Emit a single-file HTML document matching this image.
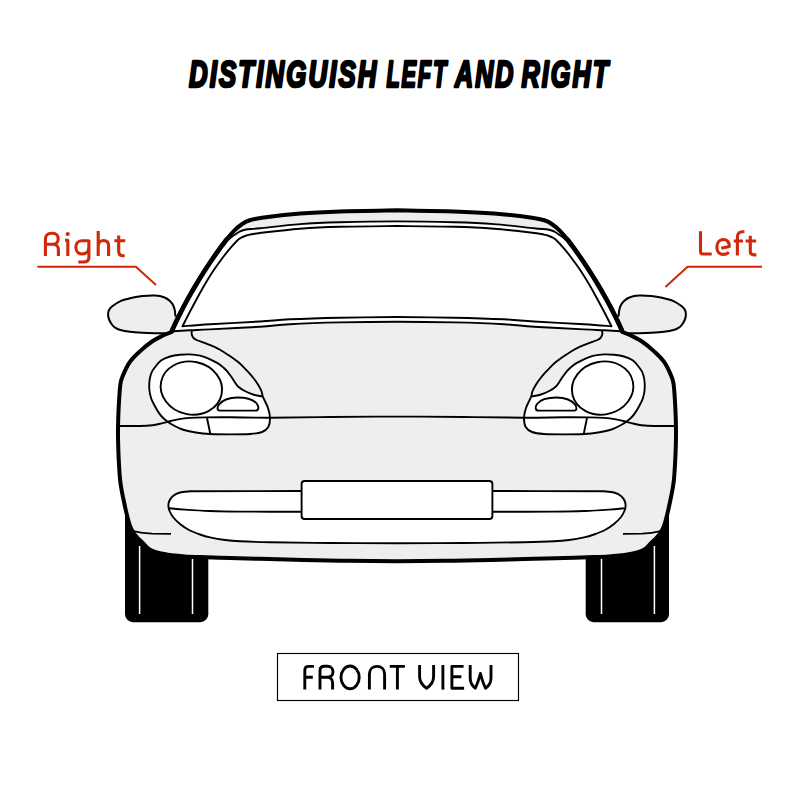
<!DOCTYPE html>
<html><head><meta charset="utf-8"><style>
html,body{margin:0;padding:0;background:#fff;width:800px;height:800px;overflow:hidden}
svg{display:block}
</style></head><body>
<svg width="800" height="800" viewBox="0 0 800 800">
<rect width="800" height="800" fill="#fff"/>
<g font-family="'Liberation Sans', sans-serif" font-weight="bold" font-style="italic" font-size="36.2" fill="#000" stroke="#000" stroke-width="2.7" stroke-linejoin="round" letter-spacing="3">
<text x="189" y="86.6" textLength="189.5" lengthAdjust="spacingAndGlyphs">DISTINGUISH</text>
<text x="386.5" y="86.6" textLength="61.5" lengthAdjust="spacingAndGlyphs">LEFT</text>
<text x="455" y="86.6" textLength="60.5" lengthAdjust="spacingAndGlyphs">AND</text>
<text x="521.5" y="86.6" textLength="88.8" lengthAdjust="spacingAndGlyphs">RIGHT</text>
</g>
<g id="L">
 <rect x="125" y="500" width="83.3" height="122.2" rx="8" fill="#000"/>
 <line x1="139.6" y1="546" x2="139.6" y2="614" stroke="#fff" stroke-width="1.5"/>
 <line x1="192.5" y1="558.5" x2="192.5" y2="614" stroke="#fff" stroke-width="1.5"/>
 <path d="M178,315.7 C177.57,315.68 175.9,316.3 175.4,315.6 C174.9,314.9 175.32,313.1 175,311.5 C174.68,309.9 174.33,307.75 173.5,306 C172.67,304.25 171.58,302.47 170,301 C168.42,299.53 166.5,298.1 164,297.2 C161.5,296.3 158.58,295.78 155,295.6 C151.42,295.42 146.33,295.73 142.5,296.1 C138.67,296.47 135.67,296.97 132,297.8 C128.33,298.63 123.79,299.68 120.5,301.1 C117.21,302.52 114.2,304.73 112.25,306.3 C110.3,307.87 109.49,309.03 108.8,310.5 C108.11,311.97 108.02,313.52 108.1,315.1 C108.18,316.68 108.61,318.35 109.3,320 C109.99,321.65 111.22,323.7 112.25,325 C113.28,326.3 114.12,326.97 115.5,327.8 C116.88,328.63 118.08,329.35 120.5,330 C122.92,330.65 126.33,331.25 130,331.7 C133.67,332.15 138.33,332.45 142.5,332.7 C146.67,332.95 151.25,333.1 155,333.2 C158.75,333.3 162.17,333.37 165,333.3 C167.83,333.23 170.83,332.88 172,332.8 Z" fill="#eeeeee" stroke="#000" stroke-width="2"/>
</g>
<use href="#L" transform="matrix(-1 0 0 1 794 0)"/>
<path d="M397,210.3 C387.5,210.48 356.17,210.87 340,211.4 C323.83,211.93 313,212.45 300,213.5 C287,214.55 270.5,216.53 262,217.7 C253.5,218.87 252.42,219.37 249,220.5 C245.58,221.63 244,222.78 241.5,224.5 C239,226.22 236.58,228.2 234,230.8 C231.42,233.4 229.18,236.07 226,240.1 C222.82,244.13 218.47,250.02 214.95,255 C211.43,259.98 208.11,265 204.88,270 C201.65,275 198.54,280 195.55,285 C192.56,290 189.7,295 186.96,300 C184.22,305 181.41,310.42 179.11,315 C176.81,319.58 174.41,324.67 173.14,327.5 C171.87,330.33 171.77,331.25 171.5,332 C170.08,332.58 166.25,333.92 163,335.5 C159.75,337.08 155.9,338.82 152,341.5 C148.1,344.18 143.37,348.08 139.6,351.6 C135.83,355.12 132.28,358.37 129.4,362.6 C126.52,366.83 123.82,373.27 122.3,377 C120.78,380.73 120.83,381.17 120.3,385 C119.77,388.83 119.44,394.5 119.1,400 C118.76,405.5 118.43,412.17 118.25,418 C118.07,423.83 117.97,429.33 118,435 C118.03,440.67 118.22,446.83 118.4,452 C118.58,457.17 118.82,461.33 119.1,466 C119.38,470.67 119.68,476 120.1,480 C120.52,484 121.02,486.67 121.6,490 C122.18,493.33 122.83,496.33 123.6,500 C124.37,503.67 125.27,508.08 126.2,512 C127.13,515.92 128.27,520.5 129.2,523.5 C130.13,526.5 130.9,528.17 131.8,530 C132.7,531.83 133.53,533.07 134.6,534.5 C135.67,535.93 136.88,537.25 138.2,538.6 C139.52,539.95 140.87,540.98 142.5,542.6 C144.13,544.22 145.92,546.77 148,548.3 C150.08,549.83 152.5,550.88 155,551.8 C157.5,552.72 160.17,553.22 163,553.8 C165.83,554.38 168.33,554.87 172,555.3 C175.67,555.73 180.33,556.1 185,556.4 C189.67,556.7 192.5,556.82 200,557.1 C207.5,557.38 220,557.82 230,558.1 C240,558.38 241.67,558.37 260,558.8 C278.33,559.23 317.17,560.28 340,560.7 C362.83,561.12 387.5,561.2 397,561.3 C406.5,561.2 431.17,561.12 454,560.7 C476.83,560.28 515.67,559.23 534,558.8 C552.33,558.37 554,558.38 564,558.1 C574,557.82 586.5,557.38 594,557.1 C601.5,556.82 604.33,556.7 609,556.4 C613.67,556.1 618.33,555.73 622,555.3 C625.67,554.87 628.17,554.38 631,553.8 C633.83,553.22 636.5,552.72 639,551.8 C641.5,550.88 643.92,549.83 646,548.3 C648.08,546.77 649.87,544.22 651.5,542.6 C653.13,540.98 654.48,539.95 655.8,538.6 C657.12,537.25 658.33,535.93 659.4,534.5 C660.47,533.07 661.3,531.83 662.2,530 C663.1,528.17 663.87,526.5 664.8,523.5 C665.73,520.5 666.87,515.92 667.8,512 C668.73,508.08 669.63,503.67 670.4,500 C671.17,496.33 671.82,493.33 672.4,490 C672.98,486.67 673.48,484 673.9,480 C674.32,476 674.62,470.67 674.9,466 C675.18,461.33 675.42,457.17 675.6,452 C675.78,446.83 675.98,440.67 676,435 C676.02,429.33 675.93,423.83 675.75,418 C675.57,412.17 675.24,405.5 674.9,400 C674.56,394.5 674.23,388.83 673.7,385 C673.17,381.17 673.22,380.73 671.7,377 C670.18,373.27 667.48,366.83 664.6,362.6 C661.72,358.37 658.17,355.12 654.4,351.6 C650.63,348.08 645.9,344.18 642,341.5 C638.1,338.82 634.25,337.08 631,335.5 C627.75,333.92 623.92,332.58 622.5,332 C622.23,331.25 622.13,330.33 620.86,327.5 C619.59,324.67 617.19,319.58 614.89,315 C612.59,310.42 609.78,305 607.04,300 C604.3,295 601.44,290 598.45,285 C595.46,280 592.35,275 589.12,270 C585.89,265 582.57,259.98 579.05,255 C575.53,250.02 571.17,244.13 568,240.1 C564.83,236.07 562.58,233.4 560,230.8 C557.42,228.2 555,226.22 552.5,224.5 C550,222.78 548.42,221.63 545,220.5 C541.58,219.37 540.5,218.87 532,217.7 C523.5,216.53 507,214.55 494,213.5 C481,212.45 470.17,211.93 454,211.4 C437.83,210.87 406.5,210.48 397,210.3 Z" fill="#eeeeee" stroke="none"/>
<path d="M397,221.4 C387.5,221.54 356.17,221.8 340,222.25 C323.83,222.7 313.33,223.1 300,224.1 C286.67,225.1 269.17,227.31 260,228.25 C250.83,229.19 248.5,229.12 245,229.75 C241.5,230.38 240.92,231.03 239,232 C237.08,232.97 235.08,234.47 233.5,235.6 C231.92,236.73 230.72,237.7 229.5,238.8 C228.28,239.9 227.22,241 226.2,242.2 C225.18,243.4 223.87,245.37 223.4,246 C221.99,247.5 218.04,251 214.95,255 C211.86,259 208.11,265 204.88,270 C201.65,275 198.54,280 195.55,285 C192.56,290 189.7,295 186.96,300 C184.22,305 181.19,310.58 179.11,315 C177.03,319.42 175.44,323.78 174.5,326.5 C173.56,329.22 173.67,330.5 173.5,331.3 C176.25,331.13 183.92,330.62 190,330.3 C196.08,329.98 198.33,330 210,329.4 C221.67,328.8 246.67,327.57 260,326.7 C273.33,325.83 276.67,324.92 290,324.2 C303.33,323.48 322.17,322.82 340,322.4 C357.83,321.98 387.5,321.82 397,321.7 C406.5,321.82 436.17,321.98 454,322.4 C471.83,322.82 490.67,323.48 504,324.2 C517.33,324.92 520.67,325.83 534,326.7 C547.33,327.57 572.33,328.8 584,329.4 C595.67,330 597.92,329.98 604,330.3 C610.08,330.62 617.75,331.13 620.5,331.3 C620.33,330.5 620.43,329.22 619.5,326.5 C618.57,323.78 616.97,319.42 614.89,315 C612.81,310.58 609.78,305 607.04,300 C604.3,295 601.44,290 598.45,285 C595.46,280 592.35,275 589.12,270 C585.89,265 582.14,259 579.05,255 C575.96,251 572.01,247.5 570.6,246 C570.13,245.37 568.82,243.4 567.8,242.2 C566.78,241 565.72,239.9 564.5,238.8 C563.28,237.7 562.08,236.73 560.5,235.6 C558.92,234.47 556.92,232.97 555,232 C553.08,231.03 552.5,230.38 549,229.75 C545.5,229.12 543.17,229.19 534,228.25 C524.83,227.31 507.33,225.1 494,224.1 C480.67,223.1 470.17,222.7 454,222.25 C437.83,221.8 406.5,221.54 397,221.4 Z" fill="#fff" stroke="none"/>
<path d="M570.6,246 C570.13,245.37 568.82,243.4 567.8,242.2 C566.78,241 565.72,239.9 564.5,238.8 C563.28,237.7 562.08,236.73 560.5,235.6 C558.92,234.47 556.92,232.97 555,232 C553.08,231.03 552.5,230.38 549,229.75 C545.5,229.12 543.17,229.19 534,228.25 C524.83,227.31 507.33,225.1 494,224.1 C480.67,223.1 470.17,222.7 454,222.25 C437.83,221.8 416,221.4 397,221.4 C378,221.4 356.17,221.8 340,222.25 C323.83,222.7 313.33,223.1 300,224.1 C286.67,225.1 269.17,227.31 260,228.25 C250.83,229.19 248.5,229.12 245,229.75 C241.5,230.38 240.92,231.03 239,232 C237.08,232.97 235.08,234.47 233.5,235.6 C231.92,236.73 230.72,237.7 229.5,238.8 C228.28,239.9 227.22,241 226.2,242.2 C225.18,243.4 223.87,245.37 223.4,246" fill="none" stroke="#000" stroke-width="1.9" stroke-linecap="round"/>
<path d="M620.5,331.3 C617.75,331.13 610.08,330.62 604,330.3 C597.92,329.98 595.67,330 584,329.4 C572.33,328.8 547.33,327.57 534,326.7 C520.67,325.83 517.33,324.92 504,324.2 C490.67,323.48 471.83,322.82 454,322.4 C436.17,321.98 416,321.7 397,321.7 C378,321.7 357.83,321.98 340,322.4 C322.17,322.82 303.33,323.48 290,324.2 C276.67,324.92 273.33,325.83 260,326.7 C246.67,327.57 221.67,328.8 210,329.4 C198.33,330 196.08,329.98 190,330.3 C183.92,330.62 176.25,331.13 173.5,331.3" fill="none" stroke="#000" stroke-width="1.9"/>
<path d="M397,226 C387.5,226.12 356.17,226.29 340,226.75 C323.83,227.21 313.33,227.71 300,228.75 C286.67,229.79 268.33,232.03 260,233 C251.67,233.97 252.5,234.1 250,234.6 C247.5,235.1 246.58,235.43 245,236 C243.42,236.57 241.69,237.33 240.5,238 C239.31,238.67 239.43,238.45 237.85,240 C236.27,241.55 233.19,244.8 231,247.3 C228.81,249.8 227.59,251.22 224.73,255 C221.87,258.78 217.2,265 213.83,270 C210.46,275 207.45,280 204.51,285 C201.57,290 198.89,295 196.17,300 C193.45,305 190.49,310.62 188.21,315 C185.93,319.38 183.45,324.42 182.5,326.3 C187.08,325.95 197.08,325 210,324.2 C222.92,323.4 246.67,322.32 260,321.5 C273.33,320.68 276.67,319.93 290,319.3 C303.33,318.67 322.17,318.08 340,317.7 C357.83,317.32 387.5,317.12 397,317 C406.5,317.12 436.17,317.32 454,317.7 C471.83,318.08 490.67,318.67 504,319.3 C517.33,319.93 520.67,320.68 534,321.5 C547.33,322.32 571.08,323.4 584,324.2 C596.92,325 606.92,325.95 611.5,326.3 C610.55,324.42 608.07,319.38 605.79,315 C603.51,310.62 600.55,305 597.83,300 C595.11,295 592.43,290 589.49,285 C586.55,280 583.54,275 580.17,270 C576.8,265 572.13,258.78 569.27,255 C566.41,251.22 565.19,249.8 563,247.3 C560.81,244.8 557.73,241.55 556.15,240 C554.57,238.45 554.69,238.67 553.5,238 C552.31,237.33 550.58,236.57 549,236 C547.42,235.43 546.5,235.1 544,234.6 C541.5,234.1 542.33,233.97 534,233 C525.67,232.03 507.33,229.79 494,228.75 C480.67,227.71 470.17,227.21 454,226.75 C437.83,226.29 406.5,226.12 397,226 Z" fill="none" stroke="#000" stroke-width="1.9" stroke-linejoin="round"/>
<path d="M397,491 C380.83,491 334.5,490.95 300,491 C265.5,491.05 208.33,491.25 190,491.3 C188.33,491.5 182.83,491.72 180,492.5 C177.17,493.28 174.78,494.58 173,496 C171.22,497.42 170.07,499.33 169.3,501 C168.53,502.67 168.35,504.33 168.4,506 C168.45,507.67 168.83,509.17 169.6,511 C170.37,512.83 171.27,514.83 173,517 C174.73,519.17 177.33,521.83 180,524 C182.67,526.17 185.67,528.25 189,530 C192.33,531.75 196.5,533.27 200,534.5 C203.5,535.73 205.83,536.48 210,537.4 C214.17,538.32 220,539.35 225,540 C230,540.65 232.5,540.93 240,541.3 C247.5,541.67 255,541.92 270,542.2 C285,542.48 308.83,542.82 330,543 C351.17,543.18 385.83,543.25 397,543.3 C408.17,543.25 442.83,543.18 464,543 C485.17,542.82 509,542.48 524,542.2 C539,541.92 546.5,541.67 554,541.3 C561.5,540.93 564,540.65 569,540 C574,539.35 579.83,538.32 584,537.4 C588.17,536.48 590.5,535.73 594,534.5 C597.5,533.27 601.67,531.75 605,530 C608.33,528.25 611.33,526.17 614,524 C616.67,521.83 619.27,519.17 621,517 C622.73,514.83 623.63,512.83 624.4,511 C625.17,509.17 625.55,507.67 625.6,506 C625.65,504.33 625.47,502.67 624.7,501 C623.93,499.33 622.78,497.42 621,496 C619.22,494.58 616.83,493.28 614,492.5 C611.17,491.72 605.67,491.5 604,491.3 C585.67,491.25 528.5,491.05 494,491 C459.5,490.95 413.17,491 397,491 Z" fill="#fff" stroke="#000" stroke-width="1.9"/>
<g id="R">
 <path d="M263,397 C263.83,398.83 266.83,404.5 268,408 C269.17,411.5 269.95,414.83 270,418 C270.05,421.17 269.63,424.67 268.3,427 C266.97,429.33 265.05,430.83 262,432 C258.95,433.17 255.33,433.6 250,434 C244.67,434.4 236.67,434.4 230,434.4 C223.33,434.4 215.67,434.32 210,434 C204.33,433.68 200.58,433.25 196,432.5 C191.42,431.75 186.5,430.83 182.5,429.5 C178.5,428.17 174.5,425.83 172,424.5 C169.5,423.17 168.97,422.58 167.5,421.5 C166.03,420.42 164.55,419.32 163.2,418 C161.85,416.68 160.78,415.55 159.4,413.6 C158.02,411.65 156.27,408.82 154.9,406.3 C153.53,403.78 152.12,401.22 151.2,398.5 C150.28,395.78 149.67,393.08 149.4,390 C149.13,386.92 149.23,382.92 149.6,380 C149.97,377.08 150.7,374.63 151.6,372.5 C152.5,370.37 153.43,369.2 155,367.2 C156.57,365.2 158.5,362.28 161,360.5 C163.5,358.72 166.83,357.45 170,356.5 C173.17,355.55 176.67,355.15 180,354.8 C183.33,354.45 186.67,354.27 190,354.4 C193.33,354.53 197,354.95 200,355.6 C203,356.25 205.5,357.27 208,358.3 C210.5,359.33 213,360.73 215,361.8 C217,362.88 218.17,363.38 220,364.75 C221.83,366.12 224.33,368.29 226,370 C227.67,371.71 228.92,373.58 230,375 C231.08,376.42 231.67,377.25 232.5,378.5 C233.33,379.75 234.08,381.17 235,382.5 C235.92,383.83 236.38,385.08 238,386.5 C239.62,387.92 242.12,389.62 244.75,391 C247.38,392.38 250.71,393.83 253.75,394.75 C256.79,395.67 261.46,396.21 263,396.5 Z" fill="#fff" stroke="none"/>
 <path d="M192,330.5 C191.93,331.04 191.42,332.58 191.6,333.75 C191.78,334.92 192.28,336.46 193.1,337.5 C193.92,338.54 194.18,338.95 196.5,340 C198.82,341.05 203.92,342.6 207,343.8 C210.08,345 212.83,346.21 215,347.2 C217.17,348.19 217.79,348.45 220,349.75 C222.21,351.05 225.12,352.88 228.25,355 C231.38,357.12 235.75,360 238.75,362.5 C241.75,365 243.88,367.5 246.25,370 C248.62,372.5 251,375 253,377.5 C255,380 256.82,382.67 258.25,385 C259.68,387.33 260.81,389.5 261.6,391.5 C262.39,393.5 261.93,394.25 263,397 C264.07,399.75 266.83,404.5 268,408 C269.17,411.5 269.95,414.83 270,418 C270.05,421.17 269.63,424.67 268.3,427 C266.97,429.33 265.05,430.83 262,432 C258.95,433.17 255.33,433.6 250,434 C244.67,434.4 236.67,434.4 230,434.4 C223.33,434.4 215.67,434.32 210,434 C204.33,433.68 200.58,433.25 196,432.5 C191.42,431.75 186.5,430.83 182.5,429.5 C178.5,428.17 174.5,425.83 172,424.5 C169.5,423.17 168.25,422 167.5,421.5" fill="none" stroke="#000" stroke-width="1.9"/>
 <path d="M167.5,421.5 C166.78,420.92 164.55,419.32 163.2,418 C161.85,416.68 160.78,415.55 159.4,413.6 C158.02,411.65 156.27,408.82 154.9,406.3 C153.53,403.78 152.12,401.22 151.2,398.5 C150.28,395.78 149.67,393.08 149.4,390 C149.13,386.92 149.23,382.92 149.6,380 C149.97,377.08 150.7,374.63 151.6,372.5 C152.5,370.37 153.43,369.2 155,367.2 C156.57,365.2 158.5,362.28 161,360.5 C163.5,358.72 166.83,357.45 170,356.5 C173.17,355.55 176.67,355.15 180,354.8 C183.33,354.45 186.67,354.27 190,354.4 C193.33,354.53 197,354.95 200,355.6 C203,356.25 205.5,357.27 208,358.3 C210.5,359.33 213,360.73 215,361.8 C217,362.88 218.17,363.38 220,364.75 C221.83,366.12 224.33,368.29 226,370 C227.67,371.71 228.92,373.58 230,375 C231.08,376.42 231.67,377.25 232.5,378.5 C233.33,379.75 234.08,381.17 235,382.5 C235.92,383.83 236.38,385.08 238,386.5 C239.62,387.92 242.12,389.62 244.75,391 C247.38,392.38 250.71,393.83 253.75,394.75 C256.79,395.67 261.46,396.21 263,396.5" fill="none" stroke="#000" stroke-width="1.9"/>
 <ellipse cx="191.37" cy="388.08" rx="30.9" ry="26.4" transform="rotate(12.1 191.37 388.08)" fill="#fff" stroke="#000" stroke-width="1.9"/>
 <path d="M219.6,410.6 L255.4,410.6 C258.9,410.6 259.1,407.2 257,404 C253.6,399.4 246.5,397.5 237.5,397.5 C229,397.5 222.6,400.2 219,404.5 C216.8,407.5 217.2,410.6 219.6,410.6 Z" fill="#fff" stroke="#000" stroke-width="1.9"/>
 <line x1="207" y1="418" x2="210.3" y2="434" stroke="#000" stroke-width="1.9"/>
 <path d="M169,508.2 C171.67,508.43 178.17,509.13 185,509.6 C191.83,510.07 200.83,510.67 210,511 C219.17,511.33 224.67,511.47 240,511.6 C255.33,511.73 291.67,511.77 302,511.8" fill="none" stroke="#000" stroke-width="1.9"/>
 <path d="M132.4,530.8 C139,532.4 145,533.4 152,533.7 L171,533.9" fill="none" stroke="#000" stroke-width="1.7"/>
</g>
<use href="#R" transform="matrix(-1 0 0 1 794 0)"/>
<path d="M675,426 C671.5,426 659.58,426.13 654,426 C648.42,425.87 644.83,425.57 641.5,425.2 C638.17,424.83 636.5,424.37 634,423.8 C631.5,423.23 629.5,422.53 626.5,421.8 C623.5,421.07 619.75,420.05 616,419.4 C612.25,418.75 608.5,418.23 604,417.9 C599.5,417.57 595.67,417.5 589,417.4 C582.33,417.3 574.83,417.25 564,417.3 C553.17,417.35 540.67,417.75 524,417.7 C507.33,417.65 485.17,417.18 464,417 C442.83,416.82 419.33,416.6 397,416.6 C374.67,416.6 351.17,416.82 330,417 C308.83,417.18 286.67,417.65 270,417.7 C253.33,417.75 240.83,417.35 230,417.3 C219.17,417.25 211.67,417.3 205,417.4 C198.33,417.5 194.5,417.57 190,417.9 C185.5,418.23 181.75,418.75 178,419.4 C174.25,420.05 170.5,421.07 167.5,421.8 C164.5,422.53 162.5,423.23 160,423.8 C157.5,424.37 155.83,424.83 152.5,425.2 C149.17,425.57 145.58,425.87 140,426 C134.42,426.13 122.5,426 119,426" fill="none" stroke="#000" stroke-width="1.9"/>
<path d="M397,210.3 C387.5,210.48 356.17,210.87 340,211.4 C323.83,211.93 313,212.45 300,213.5 C287,214.55 270.5,216.53 262,217.7 C253.5,218.87 252.42,219.37 249,220.5 C245.58,221.63 244,222.78 241.5,224.5 C239,226.22 236.58,228.2 234,230.8 C231.42,233.4 229.18,236.07 226,240.1 C222.82,244.13 218.47,250.02 214.95,255 C211.43,259.98 208.11,265 204.88,270 C201.65,275 198.54,280 195.55,285 C192.56,290 189.7,295 186.96,300 C184.22,305 181.41,310.42 179.11,315 C176.81,319.58 174.41,324.67 173.14,327.5 C171.87,330.33 171.77,331.25 171.5,332 C170.08,332.58 166.25,333.92 163,335.5 C159.75,337.08 155.9,338.82 152,341.5 C148.1,344.18 143.37,348.08 139.6,351.6 C135.83,355.12 132.28,358.37 129.4,362.6 C126.52,366.83 123.82,373.27 122.3,377 C120.78,380.73 120.83,381.17 120.3,385 C119.77,388.83 119.44,394.5 119.1,400 C118.76,405.5 118.43,412.17 118.25,418 C118.07,423.83 117.97,429.33 118,435 C118.03,440.67 118.22,446.83 118.4,452 C118.58,457.17 118.82,461.33 119.1,466 C119.38,470.67 119.68,476 120.1,480 C120.52,484 121.02,486.67 121.6,490 C122.18,493.33 122.83,496.33 123.6,500 C124.37,503.67 125.27,508.08 126.2,512 C127.13,515.92 128.27,520.5 129.2,523.5 C130.13,526.5 130.9,528.17 131.8,530 C132.7,531.83 133.53,533.07 134.6,534.5 C135.67,535.93 136.88,537.25 138.2,538.6 C139.52,539.95 140.87,540.98 142.5,542.6 C144.13,544.22 145.92,546.77 148,548.3 C150.08,549.83 152.5,550.88 155,551.8 C157.5,552.72 160.17,553.22 163,553.8 C165.83,554.38 168.33,554.87 172,555.3 C175.67,555.73 180.33,556.1 185,556.4 C189.67,556.7 192.5,556.82 200,557.1 C207.5,557.38 220,557.82 230,558.1 C240,558.38 241.67,558.37 260,558.8 C278.33,559.23 317.17,560.28 340,560.7 C362.83,561.12 387.5,561.2 397,561.3 C406.5,561.2 431.17,561.12 454,560.7 C476.83,560.28 515.67,559.23 534,558.8 C552.33,558.37 554,558.38 564,558.1 C574,557.82 586.5,557.38 594,557.1 C601.5,556.82 604.33,556.7 609,556.4 C613.67,556.1 618.33,555.73 622,555.3 C625.67,554.87 628.17,554.38 631,553.8 C633.83,553.22 636.5,552.72 639,551.8 C641.5,550.88 643.92,549.83 646,548.3 C648.08,546.77 649.87,544.22 651.5,542.6 C653.13,540.98 654.48,539.95 655.8,538.6 C657.12,537.25 658.33,535.93 659.4,534.5 C660.47,533.07 661.3,531.83 662.2,530 C663.1,528.17 663.87,526.5 664.8,523.5 C665.73,520.5 666.87,515.92 667.8,512 C668.73,508.08 669.63,503.67 670.4,500 C671.17,496.33 671.82,493.33 672.4,490 C672.98,486.67 673.48,484 673.9,480 C674.32,476 674.62,470.67 674.9,466 C675.18,461.33 675.42,457.17 675.6,452 C675.78,446.83 675.98,440.67 676,435 C676.02,429.33 675.93,423.83 675.75,418 C675.57,412.17 675.24,405.5 674.9,400 C674.56,394.5 674.23,388.83 673.7,385 C673.17,381.17 673.22,380.73 671.7,377 C670.18,373.27 667.48,366.83 664.6,362.6 C661.72,358.37 658.17,355.12 654.4,351.6 C650.63,348.08 645.9,344.18 642,341.5 C638.1,338.82 634.25,337.08 631,335.5 C627.75,333.92 623.92,332.58 622.5,332 C622.23,331.25 622.13,330.33 620.86,327.5 C619.59,324.67 617.19,319.58 614.89,315 C612.59,310.42 609.78,305 607.04,300 C604.3,295 601.44,290 598.45,285 C595.46,280 592.35,275 589.12,270 C585.89,265 582.57,259.98 579.05,255 C575.53,250.02 571.17,244.13 568,240.1 C564.83,236.07 562.58,233.4 560,230.8 C557.42,228.2 555,226.22 552.5,224.5 C550,222.78 548.42,221.63 545,220.5 C541.58,219.37 540.5,218.87 532,217.7 C523.5,216.53 507,214.55 494,213.5 C481,212.45 470.17,211.93 454,211.4 C437.83,210.87 406.5,210.48 397,210.3 Z" fill="none" stroke="#000" stroke-width="4" stroke-linejoin="round"/>
<g id="P"><path d="M226.1,240 C224.3,242.5 218.78,250 215.3,255 C211.82,260 208.43,265 205.2,270 C201.97,275 198.88,280 195.9,285 C192.92,290 190.03,295 187.3,300 C184.57,305 181.8,310.42 179.5,315 C177.2,319.58 174.75,324.83 173.5,327.5 C172.25,330.17 172.25,330.42 172,331" fill="none" stroke="#000" stroke-width="4.6" stroke-linecap="round"/></g>
<use href="#P" transform="matrix(-1 0 0 1 794 0)"/>
<rect x="301.6" y="481" width="190.8" height="38" rx="3" fill="#fff" stroke="#000" stroke-width="1.9"/>
<g fill="none" stroke="#d02808" stroke-width="3.1" stroke-linejoin="round">
<path d="M45.4,255.9 V239.2 C45.4,235.6 47.9,233.2 51.4,233.2 H52.6 C56.1,233.2 58.2,235.8 58.2,238.9 C58.2,242 56.1,244.3 52.8,244.3 H45.4 M52.8,244.3 C56.4,244.3 58.4,246.6 58.4,249.6 V255.9"/>
<path d="M65,240.3 H67.8 V255.9"/>
<path d="M88.9,240.7 H81.6 C77.9,240.7 75.9,243.7 75.9,247.3 C75.9,251.2 78.3,254 81.9,254 C85.3,254 88.9,252 88.9,247.6"/>
<path d="M88.9,239.8 V257.4 C88.9,260.4 86.6,262 83.4,262 H78.3"/>
<path d="M98.2,231 V255.9 M98.2,246 C98.2,242.2 100.8,240.5 103.6,240.5 C106.6,240.5 108.6,242.4 108.6,246 V255.9"/>
<path d="M118.7,235.6 V251.6 C118.7,254.4 120.4,255.7 123,255.7 H124.7 M114.4,240.8 H125.2"/>
</g>
<circle cx="67.7" cy="234" r="2.1" fill="#d02808"/>
<polyline points="37.4,266.7 135.9,266.7 156,285" fill="none" stroke="#d02808" stroke-width="2.1"/>
<g fill="none" stroke="#d02808" stroke-width="3.1" stroke-linejoin="round">
<path d="M700.5,231.2 V251.4 Q700.5,254 703.1,254 H711.7"/>
<path d="M721.3,248.3 L729.3,246.4 C729.7,242.2 727,239.5 723.2,239.5 C719.2,239.5 716.9,243.2 716.9,247.5 C716.9,251.8 719.5,254.4 723.3,254.4 C725.8,254.4 727.6,253.6 729,252.4"/>
<path d="M737.4,255.6 V237 C737.4,233.6 739.6,231.7 742.2,231.7 H744.4 M733.8,241 H743"/>
<path d="M750.3,235.8 V251.4 C750.3,254.2 752,254.9 754.5,254.9 H756.4 M745.6,241 H756.2"/>
</g>
<polyline points="762,266.7 687.6,266.7 665.4,287" fill="none" stroke="#d02808" stroke-width="2.1"/>
<rect x="277.5" y="653.5" width="241" height="47" fill="#fff" stroke="#000" stroke-width="1.15"/>
<g fill="none" stroke="#000" stroke-width="2.9" stroke-linejoin="round">
<path d="M304.8,689.6 V670.2 Q304.8,666.4 308.6,666.4 H313.9 M304.8,677.3 H312.8"/>
<path d="M320,689.6 V670.4 Q320,666.3 324.4,666.3 H327.4 C331,666.3 333,668.8 333,671.8 C333,675 330.8,677.3 327.3,677.3 H320 M327.3,677.3 C330.8,677.3 332.6,679.8 332.6,683 V689.6"/>
<ellipse cx="350.1" cy="677.4" rx="9.1" ry="11.4"/>
<path d="M369.4,689.6 V674 C369.4,669.4 372.6,666.4 377,666.4 C381.4,666.4 384.6,669.4 384.6,674 V689.6"/>
<path d="M389.8,666.4 H404.9 M397.4,666.4 V689.6"/>
<path d="M419.6,665 V676.5 C419.6,681.8 423,685.8 426.6,688.2 C430.2,685.8 433.6,681.8 433.6,676.5 V665"/>
<path d="M442.9,665 V689.6"/>
<path d="M463.6,666.4 H451.9 V688.2 H464.1 M451.9,676.8 H461.3"/>
<path d="M470.2,665 V678 C470.2,682.5 472.3,686 475.2,688.2 C477.5,684 479.2,678 480.4,673.5 C481.6,678 483.3,684 485.6,688.2 C488.8,686 491,682.5 491,678 V665"/>
</g>
</svg>
</body></html>
